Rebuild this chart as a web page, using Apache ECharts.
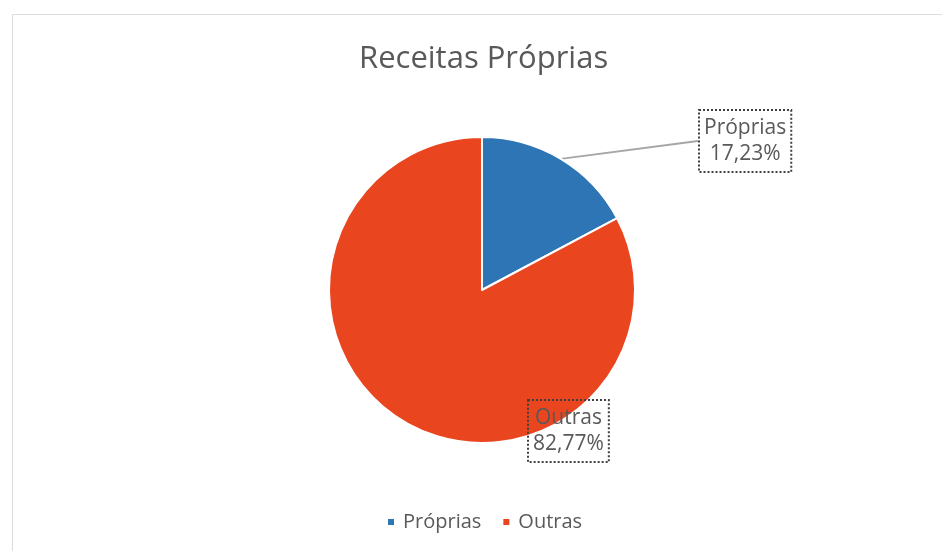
<!DOCTYPE html>
<html>
<head>
<meta charset="utf-8">
<script src="https://cdn.jsdelivr.net/npm/echarts@6/dist/echarts.min.js"></script>
<style>
  html, body { margin: 0; padding: 0; background: #fff; }
  #frame { position: absolute; left: 12px; top: 14px; width: 940px; height: 545px; border: 1px solid #dcdcdc; box-sizing: border-box; }
  #chart { position: absolute; left: 0; top: 0; width: 942px; height: 551px; }
</style>
</head>
<body>
<div id="frame"></div>
<div id="chart"></div>
<script>
// dados
const categories = ['Próprias', 'Outras'];
const values = [17.23, 82.77];
const colors = ['#2e75b6', '#e9451f'];

const chart = echarts.init(document.getElementById('chart'));

// canto esquerdo / centro vertical das caixas de rótulo
const labelPos = {
  'Próprias': { x: 698, y: 141, line: true },
  'Outras': { x: 527, y: 431, line: false }
};

const data = categories.map((c, i) => ({
  name: c,
  value: values[i],
  itemStyle: { color: colors[i] },
  labelLine: { show: labelPos[c].line }
}));

chart.setOption({
  backgroundColor: 'transparent',
  title: {
    text: 'Receitas Próprias',
    left: 354,
    top: 39,
    textStyle: { color: '#595959', fontFamily: 'Open Sans', fontWeight: 'normal', fontSize: 31 }
  },
  legend: {
    data: categories,
    bottom: 14,
    left: 381,
    icon: 'rect',
    itemWidth: 8,
    itemHeight: 8,
    itemGap: 20,
    textStyle: { color: '#595959', fontFamily: 'Open Sans', fontSize: 20, padding: [0, 0, 0, 3] }
  },
  series: [{
    type: 'pie',
    center: [482, 290],
    radius: [0, 153],
    startAngle: 90,
    clockwise: true,
    avoidLabelOverlap: false,
    itemStyle: { borderColor: '#fff', borderWidth: 2 },
    emphasis: { disabled: true },
    label: {
      show: true,
      position: 'outside',
      formatter: p => p.name + '\n' + p.value.toFixed(2).replace('.', ',') + '%',
      color: '#595959',
      fontFamily: 'Open Sans',
      fontSize: 21,
      lineHeight: 26,
      align: 'center',
      padding: [6, 5, 4, 5],
      borderColor: '#404040',
      borderWidth: 2,
      borderType: [2, 2]
    },
    labelLine: {
      show: true,
      length: 20,
      length2: 0,
      lineStyle: { color: '#a6a6a6', width: 2 }
    },
    labelLayout: params => {
      const name = categories[params.dataIndex];
      const p = labelPos[name];
      return { x: p.x + params.labelRect.width / 2, y: p.y, align: 'center', verticalAlign: 'middle' };
    },
    data: data
  }]
});
</script>
</body>
</html>
